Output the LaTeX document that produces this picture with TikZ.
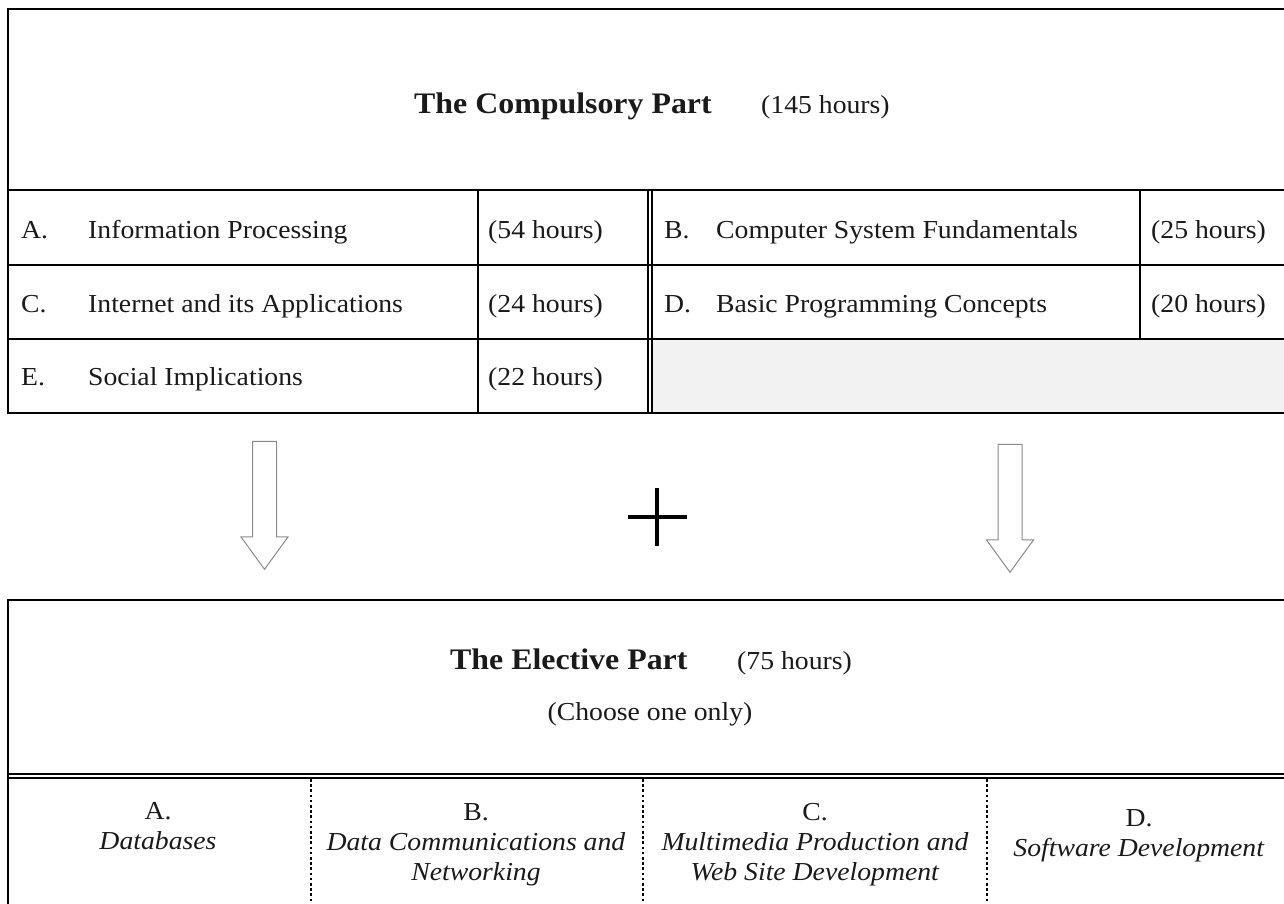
\documentclass[tikz,border=0pt]{standalone}
\usepackage{fontspec}
\setmainfont[FakeStretch=1.07]{Liberation Serif}
\usetikzlibrary{positioning, shapes.arrows}
\definecolor{CellGray}{HTML}{F2F2F2}
\definecolor{ArrowGray}{HTML}{8A8A8A}
\definecolor{InkBlack}{HTML}{1A1A1A}

\begin{document}
\begin{tikzpicture}[x=1pt, y=-1pt,
  every node/.style={font=\fontsize{25.9}{30}\selectfont, text=InkBlack, inner sep=0pt},
  heading/.style={font=\fontsize{29.8}{34}\selectfont\bfseries, anchor=base west},
  item/.style={anchor=base west},
  option/.style={align=center, anchor=base},
  frame/.style={line width=2.8pt},
  rowrule/.style={line width=2.2pt},
  colrule/.style={line width=1.3pt},
  hairrule/.style={line width=1.1pt},
  blockarrow/.style={single arrow, draw=ArrowGray, line width=1pt, fill=white,
    shape border rotate=270, minimum height=128pt, inner sep=11.5pt,
    single arrow head extend=11.5pt, single arrow tip angle=72}]
  \useasboundingbox (0,0) rectangle (1284,903);
  \clip (0,0) rectangle (1284,903);

  % Compulsory part: empty cell for the unused slot
  \fill[CellGray] (652,339) rectangle (1300,413);
  % Outer frame and row rules
  \draw[frame] (1300,9) -- (8,9) -- (8,413) -- (1300,413);
  \foreach \y in {190, 265, 339}
    \draw[rowrule] (8,\y) -- (1300,\y);
  % Column rules (double rule between the two halves)
  \draw[colrule] (478,190) -- (478,413);
  \draw[colrule] (1140,190) -- (1140,339);
  \draw[hairrule] (648,190) -- (648,413);
  \draw[hairrule] (652,190) -- (652,413);

  % Heading of the compulsory part
  \node[heading] (compTitle) at (414,113) {The Compulsory Part};
  \node[item] (compHours) at (761,113) {(145 hours)};

  % Left column of modules
  \foreach \y/\key/\title/\hrs in {238/A/Information Processing/54,
      312/C/Internet and its Applications/24, 385/E/Social Implications/22} {
    \node[item] (lbl\key) at (21,\y) {\key.};
    \node[item] (mod\key) at (88,\y) {\title};
    \node[item] (hrs\key) at (488,\y) {(\hrs{} hours)};
  }
  % Right column of modules
  \foreach \y/\key/\title/\hrs in {238/B/Computer System Fundamentals/25,
      312/D/Basic Programming Concepts/20} {
    \node[item] (lbl\key) at (664,\y) {\key.};
    \node[item] (mod\key) at (716,\y) {\title};
    \node[item] (hrs\key) at (1151,\y) {(\hrs{} hours)};
  }

  % Arrows down to the elective part, and the plus sign
  \node[blockarrow] (leftArrow) at (264.5,497) {};
  \node[blockarrow] (rightArrow) at (1010,500) {};
  \draw[line width=3.2pt] (657,488) -- (657,546);
  \draw[line width=4.6pt] (628,517) -- (687,517);

  % Elective part frame
  \draw[frame] (1300,600) -- (8,600) -- (8,910);
  \draw[hairrule] (8,774) -- (1300,774);
  \draw[hairrule] (8,778) -- (1300,778);
  \foreach \x in {311, 643, 987}
    \draw[line width=1.7pt, dash pattern=on 2.6pt off 2.6pt] (\x,779) -- (\x,910);

  % Heading of the elective part
  \node[heading] (elecTitle) at (450,669) {The Elective Part};
  \node[item] (elecHours) at (737,669) {(75 hours)};
  \node[anchor=base] (elecNote) at (650,720) {(Choose one only)};

  % Elective options (base = last line)
  \node[option] (optA) at (158,849) {A.\\\textit{Databases}};
  \node[option] (optB) at (476,880) {B.\\\textit{Data Communications and}\\\textit{Networking}};
  \node[option] (optC) at (815,880) {C.\\\textit{Multimedia Production and}\\\textit{Web Site Development}};
  \node[option] (optD) at (1139,856) {D.\\\textit{Software Development}};
\end{tikzpicture}
\end{document}
